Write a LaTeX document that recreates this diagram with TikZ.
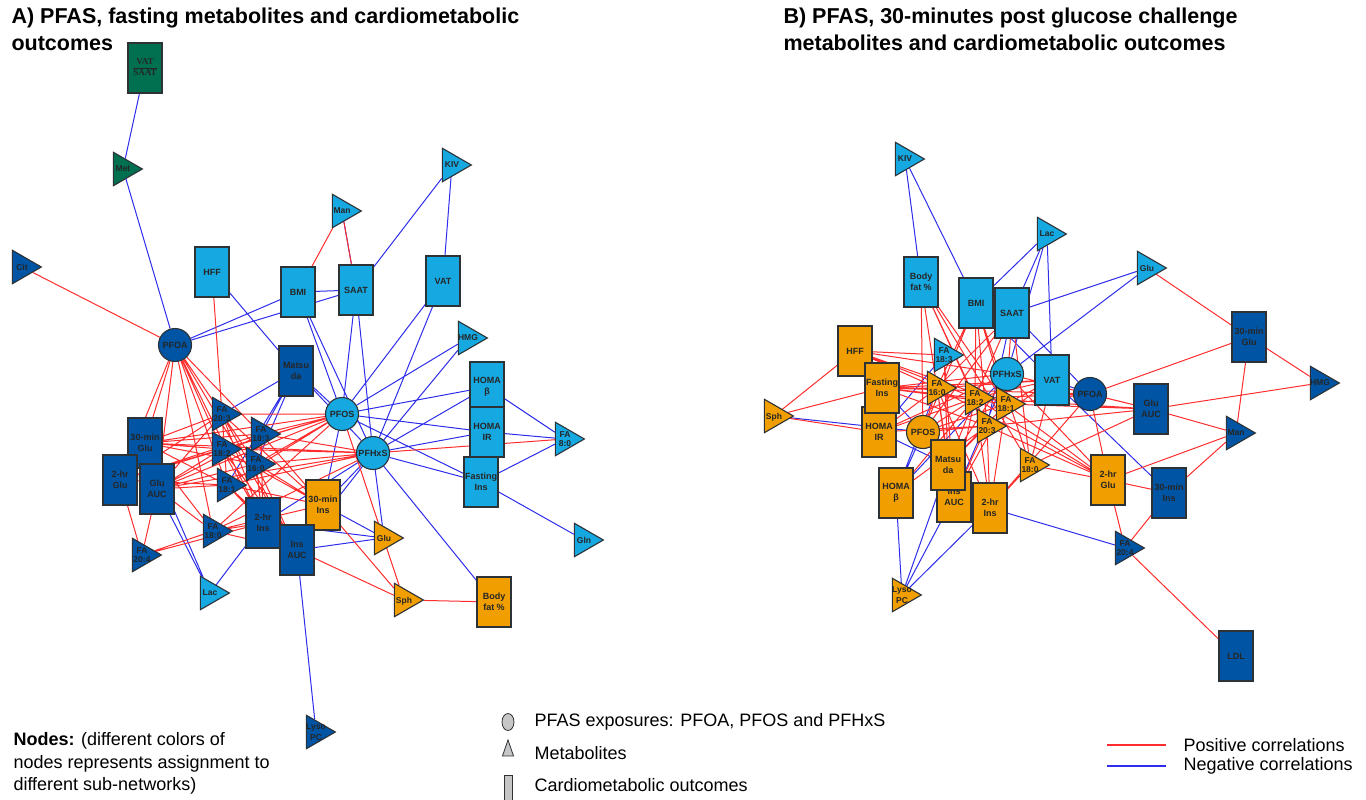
\documentclass[tikz,border=0pt]{standalone}
\usepackage{fontspec}
\setmainfont{Liberation Sans}
\newfontfamily\serifface{Liberation Serif}
\usetikzlibrary{shapes.geometric}

\definecolor{dkblue}{RGB}{0,84,164}
\definecolor{ltblue}{RGB}{22,168,224}
\definecolor{orng}{RGB}{240,158,0}
\definecolor{grn}{RGB}{0,112,80}
\definecolor{bordr}{RGB}{45,50,55}
\definecolor{posred}{RGB}{255,45,45}
\definecolor{negblue}{RGB}{45,45,235}

\pgfdeclarelayer{edges}
\pgfsetlayers{edges,main}

\newcommand{\mlab}[1]{\smash{\makebox[0pt]{\raisebox{-.5\height}{\shortstack{#1}}}}}

\begin{document}
\begin{tikzpicture}[x=1pt,y=-1pt]

\tikzstyle{outcome}=[rectangle,draw=bordr,line width=1.1pt,minimum width=34pt,minimum height=50pt,inner sep=0pt,align=center,text=black!85,font=\fontsize{9}{11}\selectfont\bfseries]
\tikzstyle{exposure}=[circle,draw=bordr,line width=1.1pt,minimum size=33pt,inner sep=0pt,text=black!85,font=\fontsize{9}{11}\selectfont\bfseries]
\tikzstyle{metab}=[isosceles triangle,isosceles triangle apex angle=60,draw=bordr,line width=1.1pt,minimum height=29pt,inner sep=0pt,text=black!85,font=\fontsize{8.5}{9}\selectfont\bfseries]
\tikzstyle{posedge}=[draw=posred,line width=1pt]
\tikzstyle{negedge}=[draw=negblue,line width=1pt]
\tikzstyle{title}=[anchor=north west,align=left,font=\fontsize{21.5}{27}\selectfont\bfseries]
\tikzstyle{legtext}=[anchor=west,font=\fontsize{18}{22.5}\selectfont]

\useasboundingbox (0,0) rectangle (1366,800);

%titles
\node[title] (titleA) at (8,4) {A) PFAS, fasting metabolites and cardiometabolic\\outcomes};
\node[title] (titleB) at (780,4) {B) PFAS, 30-minutes post glucose challenge\\metabolites and cardiometabolic outcomes};

%panel A: fasting
\node[outcome,fill=grn] (aVS) at (145,68) {\serifface\fontsize{9}{10}\selectfont\bfseries\begin{tabular}{@{}c@{}}VAT\\\hline SAAT\end{tabular}};
\node[metab,fill=grn] (aMet) at (123,169) {\mlab{Met}};
\node[metab,fill=dkblue] (aCit) at (22,267) {\mlab{Cit}};
\node[outcome,fill=ltblue] (aHFF) at (212,272) {HFF};
\node[outcome,fill=ltblue] (aBMI) at (298,292) {BMI};
\node[outcome,fill=ltblue] (aSAAT) at (356,290) {SAAT};
\node[metab,fill=ltblue] (aMan) at (342,211) {\mlab{Man}};
\node[metab,fill=ltblue] (aKIV) at (452,165) {\mlab{KIV}};
\node[outcome,fill=ltblue] (aVAT) at (443,281) {VAT};
\node[metab,fill=ltblue] (aHMG) at (468,338) {\mlab{HMG}};
\node[exposure,fill=dkblue] (aPFOA) at (175,345) {PFOA};
\node[outcome,fill=dkblue] (aMats) at (296,371) {Matsu\\da};
\node[exposure,fill=ltblue] (aPFOS) at (342,414) {PFOS};
\node[exposure,fill=ltblue] (aPFHxS) at (373,453) {PFHxS};
\node[metab,fill=dkblue] (aF203) at (222,414) {\mlab{FA\\20:3}};
\node[metab,fill=dkblue] (aF183) at (261,434) {\mlab{FA\\18:3}};
\node[metab,fill=dkblue] (aF182) at (222,449) {\mlab{FA\\18:2}};
\node[metab,fill=dkblue] (aF160) at (256,464) {\mlab{FA\\16:0}};
\node[metab,fill=dkblue] (aF181) at (227,485) {\mlab{FA\\18:1}};
\node[outcome,fill=dkblue] (aG30) at (145,443) {30-min\\Glu};
\node[outcome,fill=dkblue] (aG2) at (120,480) {2-hr\\Glu};
\node[outcome,fill=dkblue] (aGAUC) at (157,489) {Glu\\AUC};
\node[outcome,fill=orng] (aI30) at (323,505) {30-min\\Ins};
\node[outcome,fill=dkblue] (aI2) at (263,523) {2-hr\\Ins};
\node[outcome,fill=dkblue] (aIAUC) at (297,550) {Ins\\AUC};
\node[metab,fill=dkblue] (aF180) at (213,531) {\mlab{FA\\18:0}};
\node[metab,fill=dkblue] (aF204) at (142,555) {\mlab{FA\\20:4}};
\node[metab,fill=orng] (aGlu) at (384,538) {\mlab{Glu}};
\node[metab,fill=ltblue] (aLac) at (210,593) {\mlab{Lac}};
\node[metab,fill=dkblue] (aLyso) at (316,732) {\mlab{Lyso\\PC}};
\node[metab,fill=orng] (aSph) at (404,600) {\mlab{Sph}};
\node[outcome,fill=orng] (aBF) at (494,602) {Body\\fat \%};
\node[outcome,fill=ltblue] (aHB) at (487,387) {HOMA\\β};
\node[outcome,fill=ltblue] (aHIR) at (487,432) {HOMA\\IR};
\node[outcome,fill=ltblue] (aFI) at (481,482) {Fasting\\Ins};
\node[metab,fill=ltblue] (aF80) at (565,439) {\mlab{FA\\8:0}};
\node[metab,fill=ltblue] (aGln) at (584,540) {\mlab{Gln}};

%panel B: 30-minutes post glucose challenge
\node[metab,fill=ltblue] (bKIV) at (905,159) {\mlab{KIV}};
\node[metab,fill=ltblue] (bLac) at (1047,234) {\mlab{Lac}};
\node[metab,fill=ltblue] (bGlu) at (1147,268) {\mlab{Glu}};
\node[outcome,fill=ltblue] (bBF) at (921,282) {Body\\fat \%};
\node[outcome,fill=ltblue] (bBMI) at (976,303) {BMI};
\node[outcome,fill=ltblue] (bSAAT) at (1012,313) {SAAT};
\node[outcome,fill=orng] (bHFF) at (855,351) {HFF};
\node[outcome,fill=orng] (bHIR) at (879,432) {HOMA\\IR};
\node[outcome,fill=orng] (bFI) at (882,388) {Fasting\\Ins};
\node[exposure,fill=orng] (bPFOS) at (923,432) {PFOS};
\node[metab,fill=ltblue] (bF183) at (944,355) {\mlab{FA\\18:3}};
\node[metab,fill=orng] (bF160) at (937,388) {\mlab{FA\\16:0}};
\node[metab,fill=orng] (bF182) at (975,398) {\mlab{FA\\18:2}};
\node[exposure,fill=ltblue] (bPFHxS) at (1007,374) {PFHxS};
\node[metab,fill=orng] (bF181) at (1006,404) {\mlab{FA\\18:1}};
\node[metab,fill=orng] (bF203) at (987,426) {\mlab{FA\\20:3}};
\node[outcome,fill=ltblue] (bVAT) at (1052,380) {VAT};
\node[exposure,fill=dkblue] (bPFOA) at (1090,394) {PFOA};
\node[outcome,fill=orng] (bIAUC) at (954,497) {Ins\\AUC};
\node[outcome,fill=orng] (bMats) at (948,465) {Matsu\\da};
\node[outcome,fill=orng] (bI2) at (990,508) {2-hr\\Ins};
\node[outcome,fill=orng] (bHB) at (896,493) {HOMA\\β};
\node[metab,fill=orng] (bF180) at (1030,465) {\mlab{FA\\18:0}};
\node[metab,fill=orng] (bLyso) at (902,595) {\mlab{Lyso\\PC}};
\node[outcome,fill=orng] (bG2) at (1108,480) {2-hr\\Glu};
\node[metab,fill=orng] (bSph) at (774,416) {\mlab{Sph}};
\node[outcome,fill=dkblue] (bGAUC) at (1151,409) {Glu\\AUC};
\node[outcome,fill=dkblue] (bG30) at (1249,337) {30-min\\Glu};
\node[metab,fill=dkblue] (bHMG) at (1320,383) {\mlab{HMG}};
\node[metab,fill=dkblue] (bMan) at (1236,433) {\mlab{Man}};
\node[outcome,fill=dkblue] (bI30) at (1169,493) {30-min\\Ins};
\node[metab,fill=dkblue] (bF204) at (1125,548) {\mlab{FA\\20:4}};
\node[outcome,fill=dkblue] (bLDL) at (1236,656) {LDL};

\begin{pgfonlayer}{edges}
% negative correlations, A
\draw[negedge] (aVS) -- (aMet) (aMet) -- (aPFOA) (aPFOA) -- (aBMI) (aPFOA) -- (aSAAT)
  (aHFF) -- (aMats) (aBMI) -- (aSAAT) (aBMI) -- (aPFOS) (aBMI) -- (aPFHxS)
  (aSAAT) -- (aMan) (aSAAT) -- (aKIV) (aSAAT) -- (aPFOS) (aSAAT) -- (aPFHxS)
  (aKIV) -- (aVAT) (aVAT) -- (aPFOS) (aVAT) -- (aPFHxS) (aHMG) -- (aPFOS) (aHMG) -- (aPFHxS)
  (aHB) -- (aPFOS) (aHB) -- (aPFHxS) (aHIR) -- (aPFOS) (aHIR) -- (aPFHxS)
  (aFI) -- (aPFOS) (aFI) -- (aPFHxS) (aHB) -- (aF80) (aHIR) -- (aF80) (aFI) -- (aF80)
  (aFI) -- (aGln) (aPFHxS) -- (aBF) (aPFHxS) -- (aGlu) (aI30) -- (aGlu) (aIAUC) -- (aGlu)
  (aI2) -- (aGlu) (aPFHxS) -- (aI30) (aPFHxS) -- (aI2) (aPFHxS) -- (aIAUC) (aPFOS) -- (aI30)
  (aMats) -- (aPFOS) (aMats) -- (aPFHxS) (aMats) -- (aF203) (aMats) -- (aF183)
  (aMats) -- (aF160) (aMats) -- (aF181) (aGAUC) -- (aLac) (aG30) -- (aLac)
  (aI2) -- (aLac) (aIAUC) -- (aLyso);
% positive correlations, A
\draw[posedge] (aCit) -- (aPFOA) (aMan) -- (aBMI) (aMan) -- (aSAAT) (aHFF) -- (aF181)
  (aPFOA) -- (aG30) (aPFOA) -- (aG2) (aPFOA) -- (aGAUC) (aPFOA) -- (aF203) (aPFOA) -- (aF182)
  (aPFOA) -- (aF181) (aPFOA) -- (aF183) (aPFOA) -- (aF160) (aPFOA) -- (aI2) (aPFOA) -- (aIAUC)
  (aPFOA) -- (aF180)
  (aPFOS) -- (aF203) (aPFOS) -- (aF183) (aPFOS) -- (aF182) (aPFOS) -- (aF160) (aPFOS) -- (aF181)
  (aPFOS) -- (aG30) (aPFOS) -- (aGAUC) (aPFOS) -- (aG2) (aPFOS) -- (aF180) (aPFOS) -- (aSph)
  (aPFHxS) -- (aF183) (aPFHxS) -- (aF160) (aPFHxS) -- (aF182) (aPFHxS) -- (aF181)
  (aPFHxS) -- (aG30) (aPFHxS) -- (aGAUC) (aPFHxS) -- (aF80) (aPFHxS) -- (aF180)
  (aF203) -- (aG30) (aF203) -- (aGAUC) (aF203) -- (aG2) (aF203) -- (aI2) (aF203) -- (aIAUC) (aF203) -- (aI30)
  (aF183) -- (aG30) (aF183) -- (aGAUC) (aF183) -- (aG2) (aF183) -- (aI2) (aF183) -- (aI30)
  (aF182) -- (aG30) (aF182) -- (aGAUC) (aF182) -- (aG2) (aF182) -- (aI2) (aF182) -- (aIAUC) (aF182) -- (aI30)
  (aF160) -- (aG30) (aF160) -- (aGAUC) (aF160) -- (aI2) (aF160) -- (aIAUC) (aF160) -- (aI30)
  (aF181) -- (aG30) (aF181) -- (aGAUC) (aF181) -- (aG2) (aF181) -- (aI2) (aF181) -- (aIAUC) (aF181) -- (aI30)
  (aF180) -- (aG30) (aF180) -- (aGAUC) (aF180) -- (aI2) (aF180) -- (aIAUC) (aF180) -- (aF204) (aF180) -- (aI30)
  (aG2) -- (aF204) (aGAUC) -- (aF204) (aF204) -- (aI2)
  (aI30) -- (aSph) (aIAUC) -- (aSph) (aSph) -- (aBF);

% negative correlations, B
\draw[negedge] (bKIV) -- (bBF) (bKIV) -- (bBMI) (bLac) -- (bBMI) (bLac) -- (bSAAT)
  (bLac) -- (bPFHxS) (bLac) -- (bVAT) (bGlu) -- (bSAAT) (bGlu) -- (bPFHxS)
  (bSAAT) -- (bPFOA) (bVAT) -- (bPFOA) (bVAT) -- (bI30) (bI2) -- (bF204)
  (bSph) -- (bPFOS) (bLyso) -- (bHB) (bLyso) -- (bIAUC) (bLyso) -- (bI2) (bLyso) -- (bMats)
  (bHIR) -- (bMats) (bHB) -- (bPFOS) (bHB) -- (bF160) (bFI) -- (bPFOS) (bHIR) -- (bF183)
  (bPFHxS) -- (bHB) (bPFHxS) -- (bIAUC) (bBMI) -- (bVAT) (bSAAT) -- (bF203);
% positive correlations, B
\draw[posedge] (bBF) -- (bF160) (bBF) -- (bF182) (bBF) -- (bF181) (bBF) -- (bF203) (bBF) -- (bPFOS) (bBF) -- (bF180)
  (bBMI) -- (bF160) (bBMI) -- (bF182) (bBMI) -- (bF181) (bBMI) -- (bF203) (bBMI) -- (bPFOS) (bBMI) -- (bF180)
  (bSAAT) -- (bF160) (bSAAT) -- (bF182) (bSAAT) -- (bPFOS) (bSAAT) -- (bF181) (bSAAT) -- (bF180)
  (bHFF) -- (bF183) (bHFF) -- (bPFHxS) (bHFF) -- (bF160) (bHFF) -- (bF182) (bHFF) -- (bF181)
  (bFI) -- (bF160) (bFI) -- (bF182) (bFI) -- (bF181) (bFI) -- (bF203) (bFI) -- (bPFHxS) (bFI) -- (bVAT) (bFI) -- (bPFOA)
  (bHIR) -- (bF160) (bHIR) -- (bF182) (bHIR) -- (bF203) (bHIR) -- (bPFHxS)
  (bPFOS) -- (bF160) (bPFOS) -- (bF182) (bPFOS) -- (bF181) (bPFOS) -- (bF203)
  (bMats) -- (bF160) (bMats) -- (bF182) (bMats) -- (bF181) (bMats) -- (bF203) (bMats) -- (bF183) (bMats) -- (bPFHxS)
  (bIAUC) -- (bF183) (bIAUC) -- (bF182) (bIAUC) -- (bF181) (bIAUC) -- (bF160) (bIAUC) -- (bF203)
  (bI2) -- (bF182) (bI2) -- (bF181) (bI2) -- (bF203) (bI2) -- (bF180) (bI2) -- (bF160)
  (bHB) -- (bF182) (bHB) -- (bF203)
  (bF180) -- (bG2) (bF180) -- (bGAUC) (bF180) -- (bVAT)
  (bVAT) -- (bF160) (bVAT) -- (bF182) (bVAT) -- (bF181) (bVAT) -- (bF203)
  (bPFOA) -- (bG2) (bPFOA) -- (bGAUC) (bPFOA) -- (bG30) (bPFOA) -- (bF181) (bPFOA) -- (bF182) (bPFOA) -- (bI2)
  (bG2) -- (bF181) (bG2) -- (bF182) (bG2) -- (bF203) (bG2) -- (bF160) (bG2) -- (bPFHxS)
  (bG2) -- (bMan) (bG2) -- (bI30) (bG2) -- (bF204)
  (bGAUC) -- (bF181) (bGAUC) -- (bF182) (bGAUC) -- (bF203) (bGAUC) -- (bPFHxS) (bGAUC) -- (bHMG) (bGAUC) -- (bMan)
  (bG30) -- (bGlu) (bG30) -- (bHMG) (bG30) -- (bMan)
  (bI30) -- (bMan) (bI30) -- (bF204) (bF204) -- (bLDL)
  (bSph) -- (bHFF) (bSph) -- (bFI) (bSph) -- (bHIR);
\end{pgfonlayer}

%legend
\node[legtext,anchor=north west,align=left] (legNodes) at (10,729) {\textbf{Nodes:} (different colors of\\nodes represents assignment to\\different sub-networks)};
\node[ellipse,draw=bordr,fill=gray!45,line width=0.8pt,minimum width=12pt,minimum height=17pt,inner sep=0pt] (lgExp) at (508,722) {};
\node[legtext] (lgExpTxt) at (531,722) {PFAS exposures: PFOA, PFOS and PFHxS};
\node[isosceles triangle,shape border rotate=90,isosceles triangle apex angle=38,draw=bordr,fill=gray!45,line width=0.8pt,minimum height=16pt,inner sep=0pt] (lgMet) at (508,752) {};
\node[legtext] (lgMetTxt) at (531,753) {Metabolites};
\node[rectangle,draw=bordr,fill=gray!45,line width=0.8pt,minimum width=8pt,minimum height=28pt,inner sep=0pt] (lgOut) at (508,789) {};
\node[legtext] (lgOutTxt) at (531,785) {Cardiometabolic outcomes};
\coordinate (lgPa) at (1107,745);
\coordinate (lgPb) at (1166,745);
\coordinate (lgNa) at (1107,766);
\coordinate (lgNb) at (1166,766);
\draw[posedge,line width=1.3pt] (lgPa) -- (lgPb);
\draw[negedge,line width=1.3pt] (lgNa) -- (lgNb);
\node[legtext] (lgPosTxt) at (1180,745) {Positive correlations};
\node[legtext] (lgNegTxt) at (1180,766) {Negative correlations};

\end{tikzpicture}
\end{document}
